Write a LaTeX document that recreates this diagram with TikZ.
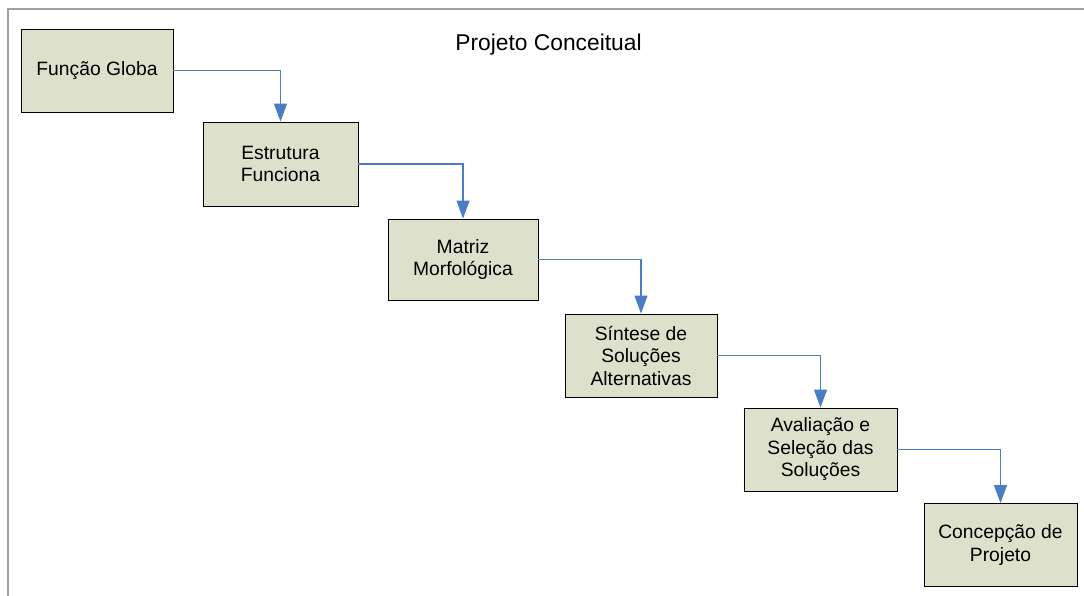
\documentclass[tikz,border=0pt]{standalone}
\usepackage{fontspec}
\setmainfont{Liberation Sans}
\usetikzlibrary{arrows.meta}
\definecolor{boxfill}{HTML}{DDE0CB}
\definecolor{flowblue}{HTML}{4A7EC4}
\definecolor{framegray}{HTML}{A0A0A0}
\tikzset{
  stepbox/.style={draw=black, line width=0.9pt, fill=boxfill, rectangle, align=center,
    inner sep=0pt, font=\fontsize{19.3}{22.5}\selectfont},
  flow/.style={draw=flowblue, line width=1.2pt, -{Triangle[length=18pt,width=13pt]}}
}
\begin{document}
\begin{tikzpicture}[x=1pt,y=-1pt]
\useasboundingbox (0,0) rectangle (1084,596);
\fill[white] (0,0) rectangle (1084,596);
\coordinate (fa) at (7.5,596);
\coordinate (fb) at (7.5,9.5);
\coordinate (fc) at (1084,9.5);
\draw[framegray, line width=2pt] (fa) -- (fb) -- (fc);
\node[font=\fontsize{22.8}{26}\selectfont] (title) at (548.5,45) {Projeto Conceitual};
\node[stepbox, minimum width=152pt, minimum height=83pt] (n1) at (97,70.5) {Função Globa};
\node[stepbox, minimum width=155pt, minimum height=84pt] (n2) at (280.5,164) {Estrutura\\Funciona};
\node[stepbox, minimum width=150pt, minimum height=81pt] (n3) at (463,259.5) {Matriz\\Morfológica};
\node[stepbox, minimum width=152pt, minimum height=83pt] (n4) at (641,355.5) {Síntese de\\Soluções\\Alternativas};
\node[stepbox, minimum width=153pt, minimum height=83pt] (n5) at (820.5,449.5) {Avaliação e\\Seleção das\\Soluções};
\node[stepbox, minimum width=153pt, minimum height=83pt] (n6) at (1000.5,545) {Concepção de\\Projeto};
\draw[flow] (n1.east) -| (n2.north);
\draw[flow] (n2.east) -| (n3.north);
\draw[flow] (n3.east) -| (n4.north);
\draw[flow] (n4.east) -| (n5.north);
\draw[flow] (n5.east) -| (n6.north);
\end{tikzpicture}
\end{document}
